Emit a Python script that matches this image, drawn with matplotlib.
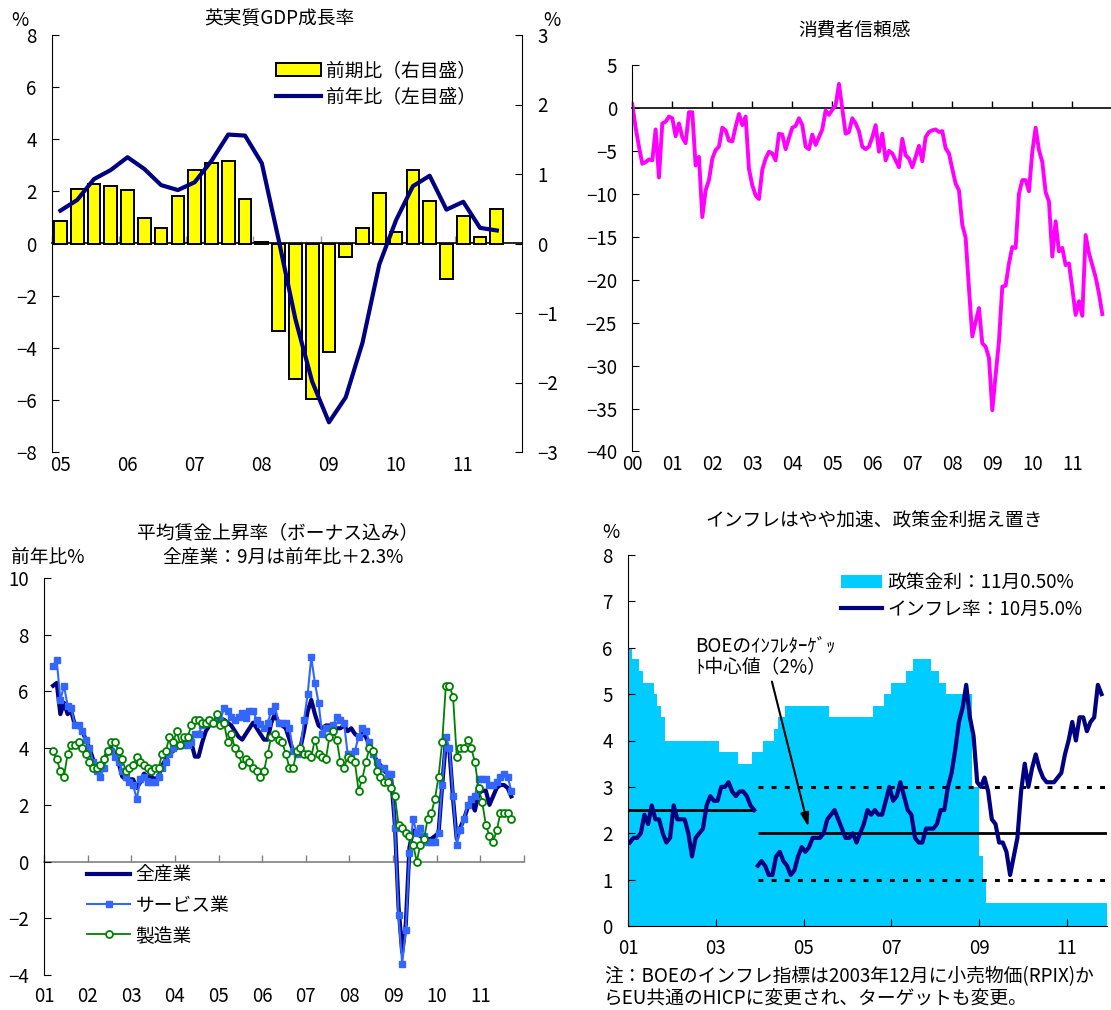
import numpy as np
import pandas as pd
import matplotlib
matplotlib.use("Agg")
import matplotlib.pyplot as plt
from matplotlib.patches import Patch
from matplotlib.lines import Line2D

plt.rcParams["font.family"] = ["Noto Sans CJK JP", "DejaVu Sans"]
plt.rcParams["axes.unicode_minus"] = True

# ---------------- data ----------------
# UK real GDP (quarterly)
gdp_quarters = pd.period_range("2005Q1", "2011Q3", freq="Q")
gdp_qoq = [0.32, 0.79, 0.85, 0.83, 0.77, 0.37, 0.23, 0.68, 1.06, 1.16, 1.19, 0.64,
           0.02, -1.26, -1.95, -2.24, -1.56, -0.20, 0.23, 0.73, 0.17, 1.06, 0.61,
           -0.51, 0.39, 0.10, 0.49]
gdp_yoy = [1.26, 1.67, 2.47, 2.82, 3.31, 2.86, 2.24, 2.05, 2.35, 3.17, 4.18, 4.14,
           3.08, 0.15, -2.9, -5.3, -6.86, -5.9, -3.8, -0.8, 0.9, 2.2, 2.6, 1.3,
           1.6, 0.6, 0.5]

# Consumer confidence (monthly)
conf_months = pd.period_range("2000-01", "2011-10", freq="M")
consumer_conf = [
    0.4, -2.3, -4.5, -6.5, -6.3, -6.0, -6.1, -2.5, -8.1, -1.8, -1.6, -1.0,
    -1.2, -3.3, -1.8, -3.4, -4.1, -0.5, -0.5, -6.7, -5.7, -12.7, -9.6, -8.4,
    -5.9, -4.9, -4.5, -2.3, -2.6, -3.8, -3.9, -2.2, -0.7, -2.0, -1.0, -7.1,
    -9.0, -10.2, -10.6, -7.2, -5.9, -5.1, -5.3, -6.1, -3.0, -3.1, -4.8, -3.5,
    -2.3, -2.1, -1.2, -2.0, -4.5, -4.8, -3.1, -4.3, -3.4, -2.5, -0.3, -0.8,
    -0.2, 0.3, 2.8, -0.1, -3.0, -2.8, -1.2, -1.8, -2.7, -4.5, -4.8, -4.5,
    -3.4, -2.0, -5.1, -3.0, -6.1, -5.0, -5.3, -6.1, -6.9, -3.6, -5.5, -5.9,
    -6.9, -5.7, -4.4, -6.2, -3.4, -2.8, -2.6, -2.5, -2.8, -2.7, -4.7, -5.3,
    -7.1, -8.8, -9.6, -13.6, -15.1, -21.0, -26.6, -24.9, -23.3, -27.4, -27.8, -29.1,
    -35.2, -31.1, -27.2, -20.8, -20.7, -18.1, -16.2, -16.3, -10.0, -8.4, -8.4, -9.7,
    -5.1, -2.3, -4.9, -6.3, -9.8, -10.9, -17.3, -13.2, -16.7, -16.3, -18.3, -18.1,
    -21.0, -24.1, -22.5, -24.2, -14.8, -16.9, -18.3, -19.7, -21.6, -24.0]

# Average earnings growth incl. bonuses (monthly, % y/y)
wage_months = pd.period_range("2001-03", "2011-09", freq="M")
wage_all = [
    6.2, 6.3, 5.2, 5.6, 5.2, 5.3, 4.8, 4.8, 4.6, 4.3,
    4.0, 3.6, 3.4, 3.4, 3.5, 3.9, 4.0, 3.8, 3.5, 3.0, 2.9, 2.9,
    2.9, 2.6, 2.8, 3.1, 3.0, 3.0, 2.9, 3.0, 3.4, 3.6, 3.8, 3.9,
    4.0, 4.1, 4.2, 4.2, 4.2, 3.7, 3.7, 4.2, 4.6, 4.8, 4.9, 5.0,
    5.0, 5.0, 4.9, 4.8, 4.6, 4.4, 4.3, 4.5, 4.7, 4.9, 4.7, 4.5,
    4.3, 4.3, 4.9, 5.2, 4.9, 4.8, 4.7, 4.3, 3.9, 3.9, 4.0, 4.6,
    5.3, 5.7, 5.2, 4.8, 4.7, 4.8, 4.8, 4.7, 4.7, 4.7, 4.8, 4.6,
    4.7, 4.5, 4.4, 4.55, 4.4, 4.1, 3.8, 3.55, 3.4, 3.2, 3.1, 2.9,
    1.3, -1.6, -3.2, -2.2, 0.5, 1.1, 1.0, 0.9, 0.8, 0.8, 0.8, 0.9,
    1.0, 2.7, 4.2, 3.9, 2.2, 0.8, 1.2, 1.5, 1.9, 2.1, 1.8, 2.4,
    2.5, 2.5, 2.0, 2.3, 2.6, 2.7, 2.7, 2.6, 2.3]
wage_services = [
    6.9, 7.1, 5.7, 6.2, 5.5, 5.4, 4.8, 4.8, 4.6, 4.3,
    4.0, 3.5, 3.2, 3.0, 3.3, 3.9, 3.9, 3.7, 3.5, 3.2, 3.0, 2.8,
    2.7, 2.2, 2.9, 3.0, 2.8, 2.8, 2.8, 3.0, 3.3, 3.5, 3.8, 4.0,
    4.1, 4.1, 4.1, 4.1, 4.2, 4.5, 4.5, 4.8, 4.9, 5.0, 4.9, 5.0,
    5.0, 5.4, 5.3, 5.1, 5.0, 5.1, 5.25, 5.05, 5.3, 5.3, 5.0, 4.85,
    4.7, 4.9, 5.3, 5.5, 4.9, 4.9, 4.9, 4.7, 3.9, 3.8, 3.9, 5.0,
    5.9, 7.2, 6.3, 5.6, 4.5, 4.7, 4.7, 4.8, 5.1, 5.0, 4.9, 3.8,
    3.8, 3.9, 4.4, 4.7, 4.6, 4.2, 3.8, 3.5, 3.3, 3.3, 3.1, 3.1,
    1.2, -1.9, -3.6, -2.4, 0.3, 1.5, 1.0, 1.2, 0.9, 0.7, 0.7, 0.7,
    1.0, 2.7, 4.4, 4.0, 2.3, 0.6, 1.1, 1.5, 2.0, 2.2, 2.3, 2.9,
    2.9, 2.9, 2.7, 2.7, 2.8, 3.0, 3.1, 3.0, 2.5]
wage_manuf = [
    3.9, 3.6, 3.2, 3.0, 3.8, 4.1, 4.1, 4.2, 4.0, 3.8,
    3.5, 3.3, 3.3, 3.4, 3.6, 3.9, 4.2, 4.2, 3.9, 3.6, 3.2, 3.3,
    3.4, 3.7, 3.5, 3.4, 3.3, 3.2, 3.3, 3.3, 3.8, 3.9, 4.4, 4.2,
    4.6, 4.1, 4.4, 4.4, 4.8, 5.0, 5.0, 4.9, 4.9, 5.0, 4.9, 5.2,
    4.8, 4.9, 4.2, 4.5, 4.0, 3.8, 3.4, 3.6, 3.5, 3.3, 3.2, 3.0,
    3.2, 3.8, 4.4, 4.5, 4.3, 4.2, 3.8, 3.3, 3.3, 3.9, 4.0, 3.8,
    3.8, 3.7, 4.3, 3.8, 3.7, 3.6, 4.4, 4.6, 4.3, 3.5, 3.3, 3.7,
    3.6, 3.5, 2.5, 2.9, 3.5, 4.0, 3.9, 3.2, 3.0, 2.8, 2.8, 2.6,
    2.3, 1.3, 1.2, 1.0, 0.9, 0.6, 0.0, 0.6, 0.8, 1.5, 1.7, 2.2,
    3.0, 4.2, 6.2, 6.2, 5.8, 3.7, 4.0, 4.0, 4.3, 4.0, 3.5, 2.6,
    2.1, 1.3, 0.9, 0.7, 1.1, 1.7, 1.7, 1.7, 1.5]

# Bank Rate (month-end) and inflation
rate_months = pd.period_range("2001-01", "2011-11", freq="M")
policy_rate = (
    [6.0, 5.75, 5.75, 5.5, 5.25, 5.25, 5.25, 5.0, 4.75, 4.5, 4.0, 4.0]
    + [4.0] * 12
    + [4.0, 3.75, 3.75, 3.75, 3.75, 3.75, 3.5, 3.5, 3.5, 3.5, 3.75, 3.75]
    + [3.75, 4.0, 4.0, 4.0, 4.25, 4.5, 4.5, 4.75, 4.75, 4.75, 4.75, 4.75]
    + [4.75] * 7 + [4.5] * 5
    + [4.5] * 7 + [4.75, 4.75, 4.75, 5.0, 5.0]
    + [5.25, 5.25, 5.25, 5.25, 5.5, 5.5, 5.75, 5.75, 5.75, 5.75, 5.75, 5.5]
    + [5.5, 5.25, 5.25, 5.0, 5.0, 5.0, 5.0, 5.0, 5.0, 5.0, 3.0, 3.0]
    + [1.5, 1.0] + [0.5] * 10
    + [0.5] * 12
    + [0.5] * 11)

rpix_months = pd.period_range("2001-01", "2003-11", freq="M")
rpix = [1.8, 1.9, 1.9, 2.0, 2.4, 2.2, 2.6, 2.3, 2.3, 2.0, 1.8, 1.9,
        2.6, 2.3, 2.3, 2.3, 2.0, 1.5, 1.9, 2.0, 2.1, 2.6, 2.8, 2.7,
        2.7, 3.0, 3.0, 3.1, 2.9, 2.8, 2.9, 2.9, 2.8, 2.6, 2.5]
cpi_months = pd.period_range("2003-12", "2011-10", freq="M")
cpi = [1.3,
       1.4, 1.3, 1.1, 1.1, 1.5, 1.6, 1.4, 1.3, 1.1, 1.2, 1.5, 1.7,
       1.6, 1.7, 1.9, 1.9, 1.9, 2.0, 2.3, 2.4, 2.5, 2.3, 2.1, 1.9,
       1.9, 2.0, 1.8, 2.0, 2.2, 2.5, 2.4, 2.5, 2.4, 2.4, 2.7, 3.0,
       2.7, 2.8, 3.1, 2.8, 2.5, 2.4, 1.9, 1.8, 1.8, 2.1, 2.1, 2.1,
       2.2, 2.5, 2.5, 3.0, 3.3, 3.8, 4.4, 4.7, 5.2, 4.5, 4.1, 3.1,
       3.0, 3.2, 2.9, 2.3, 2.2, 1.8, 1.8, 1.6, 1.1, 1.5, 1.9, 2.9,
       3.5, 3.0, 3.4, 3.7, 3.4, 3.2, 3.1, 3.1, 3.1, 3.2, 3.3, 3.7,
       4.0, 4.4, 4.0, 4.5, 4.5, 4.2, 4.4, 4.5, 5.2, 5.0]
target_rpix = 2.5
target_cpi = 2.0
target_band = 1.0

# ---------------- helpers ----------------
W, H = 1111, 1010
FS = 13.5
NAVY = "#000080"

fig = plt.figure(figsize=(W / 100, H / 100), dpi=100)


def px_rect(x0, y0, x1, y1):
    return [x0 / W, 1 - y1 / H, (x1 - x0) / W, (y1 - y0) / H]


def ftext(x, y, s, **kw):
    kw.setdefault("fontsize", FS)
    fig.text(x / W, 1 - y / H, s, **kw)


def quarter_pos(p):
    return np.asarray(p.year + (p.quarter - 0.5) / 4, dtype=float)


def month_start(p):
    return np.asarray(p.year + (p.month - 1) / 12, dtype=float)


def month_mid(p):
    return np.asarray(p.year + (p.month - 0.5) / 12, dtype=float)


def zero_axis(ax, ticks, spine_color, tick_color):
    lo, hi = ax.get_ylim()
    frac = (0 - lo) / (hi - lo)
    sec = ax.secondary_xaxis(frac)
    sec.set_xticks(ticks)
    sec.tick_params(axis="x", direction="out" if frac >= 0.5 else "in",
                    length=5, width=1, color=tick_color,
                    labeltop=False, labelbottom=False)
    for sp in sec.spines.values():
        sp.set_color(spine_color)
        sp.set_linewidth(1.2)
    return sec


def year_labels(years):
    return [f"{y % 100:02d}" for y in years]


# ---------------- panel 1: GDP ----------------
ax1 = fig.add_axes(px_rect(52, 35, 522, 452))
ax1r = ax1.twinx()
xq = quarter_pos(gdp_quarters)
bars = ax1r.bar(xq, gdp_qoq, width=0.19, color="#FFFF00", edgecolor="black",
                linewidth=1.4, zorder=2)
line_yoy, = ax1.plot(xq, gdp_yoy, color=NAVY, lw=3)
ax1.set_xlim(2005, 2012)
ax1.set_ylim(-8, 8)
ax1r.set_ylim(-3, 3)
ax1.set_zorder(ax1r.get_zorder() + 1)
ax1.patch.set_visible(False)
for s in ["top", "right", "bottom"]:
    ax1.spines[s].set_visible(False)
for s in ["top", "left", "bottom"]:
    ax1r.spines[s].set_visible(False)
ax1.set_yticks(np.arange(-8, 9, 2))
ax1r.set_yticks(np.arange(-3, 4, 1))
ax1.tick_params(axis="y", direction="in", length=5, labelsize=FS, pad=11)
ax1r.tick_params(axis="y", direction="in", length=5, labelsize=FS, pad=11)
years1 = np.arange(2005, 2012)
ax1.set_xticks(years1 + 0.125, year_labels(years1))
ax1.tick_params(axis="x", length=0, labelsize=FS, pad=2)
zero_axis(ax1r, years1, "black", "#999999")
ax1.legend([bars, line_yoy], ["前期比（右目盛）", "前年比（左目盛）"],
           loc="upper left", bbox_to_anchor=(276 / W, 1 - 60 / H),
           bbox_transform=fig.transFigure, frameon=False, fontsize=FS,
           handlelength=2.4, handleheight=0.65, handletextpad=0.25,
           labelspacing=0.3, borderpad=0, borderaxespad=0)
ftext(279, 18, "英実質GDP成長率", ha="center", va="center")
ftext(20, 20, "%", ha="center", va="center")
ftext(552, 20, "%", ha="center", va="center")

# ---------------- panel 2: consumer confidence ----------------
ax2 = fig.add_axes(px_rect(632.3, 65, 1112.3, 451.5))
ax2.plot(month_start(conf_months), consumer_conf, color="#FF00FF", lw=2.8)
ax2.set_xlim(2000, 2012)
ax2.set_ylim(-40, 5)
for s in ["top", "right", "bottom"]:
    ax2.spines[s].set_visible(False)
ax2.set_yticks(np.arange(-40, 6, 5))
ax2.tick_params(axis="y", direction="in", length=5, labelsize=FS, pad=11)
years2 = np.arange(2000, 2012)
ax2.set_xticks(years2, year_labels(years2))
ax2.tick_params(axis="x", length=0, labelsize=FS, pad=2)
zero_axis(ax2, np.arange(2000, 2013), "black", "black")
ftext(855, 30, "消費者信頼感", ha="center", va="center")

# ---------------- panel 3: wages ----------------
ax3 = fig.add_axes(px_rect(44, 578, 524, 975))
xw = month_mid(wage_months)
l_all, = ax3.plot(xw, wage_all, color=NAVY, lw=3, zorder=2)
l_srv, = ax3.plot(xw, wage_services, color="#3366FF", lw=1.5, marker="s",
                  ms=5, mfc="#3366FF", mec="#3366FF", zorder=3)
l_man, = ax3.plot(xw, wage_manuf, color="#008000", lw=1.3, marker="o",
                  ms=5, mfc="white", mec="#008000", mew=1.3, zorder=4)
ax3.set_xlim(2001, 2012)
ax3.set_ylim(-4, 10)
for s in ["top", "right", "bottom"]:
    ax3.spines[s].set_visible(False)
ax3.set_yticks(np.arange(-4, 11, 2))
ax3.tick_params(axis="y", direction="in", length=5, labelsize=FS, pad=11)
years3 = np.arange(2001, 2012)
ax3.set_xticks(years3, year_labels(years3))
ax3.tick_params(axis="x", length=0, labelsize=FS, pad=8)
zero_axis(ax3, np.arange(2001, 2013), "#808080", "#808080")
ax3.legend([l_all, l_srv, l_man], ["全産業", "サービス業", "製造業"],
           loc="upper left", bbox_to_anchor=(87 / W, 1 - 865 / H),
           bbox_transform=fig.transFigure, frameon=False, fontsize=FS,
           handlelength=2.3, handletextpad=0.3, labelspacing=0.48,
           borderpad=0, borderaxespad=0)
ftext(278, 533, "平均賃金上昇率（ボーナス込み）", ha="center", va="center")
ftext(283, 557, "全産業：9月は前年比＋2.3%", ha="center", va="center")
ftext(11, 557, "前年比%", ha="left", va="center")

# ---------------- panel 4: inflation & policy rate ----------------
ax4 = fig.add_axes(px_rect(628, 555, 1107, 926))
edges = np.append(month_start(rate_months), month_start(rate_months)[-1] + 1 / 12)
ax4.stairs(policy_rate, edges, baseline=0, fill=True, color="#00CCFF", lw=0, zorder=1)
x_rpix = month_mid(rpix_months)
x_cpi = month_mid(cpi_months)
x_end = edges[-1]
ax4.hlines(target_rpix, edges[0], x_rpix[-1], color="black", lw=2, zorder=2)
ax4.hlines(target_cpi, x_cpi[0], x_end, color="black", lw=2, zorder=2)
ax4.hlines([target_cpi - target_band, target_cpi + target_band], x_cpi[0], x_end,
           color="black", lw=2.2, linestyles=(0, (1.6, 2.7)), zorder=2)
ax4.plot(x_rpix, rpix, color=NAVY, lw=3, zorder=3)
l_inf, = ax4.plot(x_cpi, cpi, color=NAVY, lw=3, zorder=3)
ax4.set_xlim(edges[0], x_end)
ax4.set_ylim(0, 8)
for s in ["top", "right"]:
    ax4.spines[s].set_visible(False)
ax4.set_yticks(np.arange(0, 9, 1))
ax4.tick_params(axis="y", direction="in", length=5, labelsize=FS, pad=11)
years4 = np.arange(2001, 2012, 2)
ax4.set_xticks(years4, year_labels(years4))
ax4.tick_params(axis="x", direction="in", length=5, labelsize=FS, pad=9)
ax4.annotate("", xy=(2005.11, 2.14), xytext=(2004.28, 5.27),
             arrowprops=dict(arrowstyle="-|>,head_length=0.8,head_width=0.25",
                             color="black", lw=1.5, shrinkA=0, shrinkB=0),
             zorder=5)
ax4.legend([Patch(facecolor="#00CCFF", edgecolor="none"), l_inf],
           ["政策金利：11月0.50%", "インフレ率：10月5.0%"],
           loc="upper left", bbox_to_anchor=(841 / W, 1 - 572 / H),
           bbox_transform=fig.transFigure, frameon=False, fontsize=FS,
           handlelength=2.2, handleheight=0.65, handletextpad=0.25,
           labelspacing=0.3, borderpad=0, borderaxespad=0)
ftext(874, 521, "インフレはやや加速、政策金利据え置き", ha="center", va="center")
ftext(611, 532, "%", ha="center", va="center")
ftext(695, 646, "BOEのｲﾝﾌﾚﾀｰｹﾞｯ", ha="left", va="center")
ftext(695, 668, "ﾄ中心値（2%）", ha="left", va="center")
ftext(604, 977, "注：BOEのインフレ指標は2003年12月に小売物価(RPIX)か", ha="left", va="center")
ftext(604, 999, "らEU共通のHICPに変更され、ターゲットも変更。", ha="left", va="center")

fig.savefig("out.png", dpi=100)
